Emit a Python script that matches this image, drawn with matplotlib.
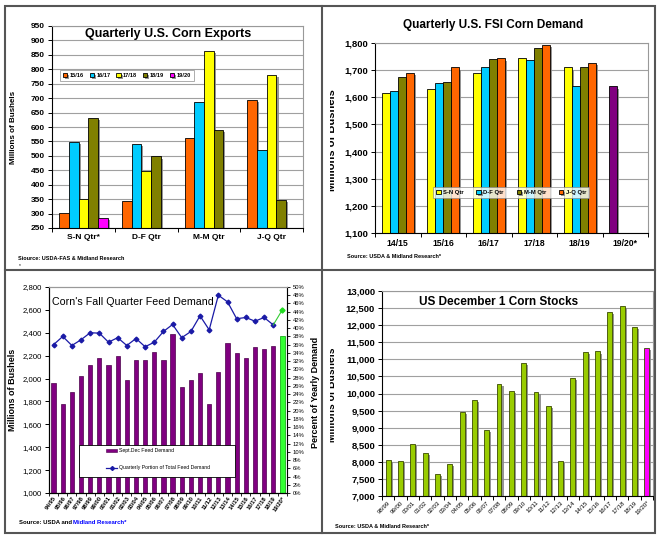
import numpy as np
import matplotlib
matplotlib.use("Agg")
import matplotlib.pyplot as plt
from matplotlib import patheffects as pe
from matplotlib.patches import Rectangle, Patch
from matplotlib.lines import Line2D
from matplotlib.ticker import FuncFormatter, MultipleLocator, FixedLocator
from matplotlib.transforms import Bbox, TransformedBbox

plt.rcParams['font.family'] = ['Liberation Sans', 'DejaVu Sans']

# ---- data ----
exp_quarters = ["S-N Qtr*", "D-F Qtr", "M-M Qtr", "J-Q Qtr"]
exp_years = ["15/16", "16/17", "17/18", "18/19", "19/20"]
exp_1516 = [302, 342, 563, 694]
exp_1617 = [549, 540, 687, 521]
exp_1718 = [349, 448, 862, 781]
exp_1819 = [632, 498, 590, 347]
exp_1920 = [285, np.nan, np.nan, np.nan]

fsi_years = ["14/15", "15/16", "16/17", "17/18", "18/19", "19/20*"]
fsi_qtrs = ["S-N Qtr", "D-F Qtr", "M-M Qtr", "J-Q Qtr"]
fsi_sn = [1614, 1632, 1688, 1743, 1710, 1640]
fsi_df = [1622, 1652, 1710, 1738, 1642, np.nan]
fsi_mm = [1675, 1655, 1740, 1780, 1710, np.nan]
fsi_jq = [1690, 1710, 1743, 1793, 1727, np.nan]

feed_years = ["94/95", "95/96", "96/97", "97/98", "98/99", "99/00", "00/01", "01/02",
              "02/03", "03/04", "04/05", "05/06", "06/07", "07/08", "08/09", "09/10",
              "10/11", "11/12", "12/13", "13/14", "14/15", "15/16", "16/17", "17/18",
              "18/19", "19/20*"]
feed_demand = [1960, 1780, 1885, 2025, 2115, 2180, 2120, 2195, 1985, 2160, 2165, 2235, 2160,
               2390, 1930, 1990, 2050, 1780, 2060, 2315, 2225, 2180, 2280, 2260, 2285, 2370]
feed_share = [36.0, 38.0, 35.8, 37.2, 38.9, 38.8, 36.6, 37.7, 35.8, 37.5, 35.5, 36.6, 39.2,
              40.9, 37.7, 39.2, 43.0, 39.6, 48.0, 46.4, 42.3, 42.6, 41.7, 42.6, 40.8, 44.5]

stock_years = ["98/99", "99/00", "00/01", "01/02", "02/03", "03/04", "04/05", "05/06",
               "06/07", "07/08", "08/09", "09/10", "10/11", "11/12", "12/13", "13/14",
               "14/15", "15/16", "16/17", "17/18", "18/19", "19/20*"]
stock_dec1 = [8060, 8030, 8530, 8260, 7650, 7950, 9470, 9820, 8940, 10280, 10080, 10900,
              10050, 9640, 8030, 10450, 11210, 11230, 12380, 12560, 11940, 11330]

W, H = 663, 541
fig = plt.figure(figsize=(W / 100, H / 100), dpi=100)


def box(l, t, r, b):
    return [l / W, 1 - b / H, (r - l) / W, (b - t) / H]


def fy(y):
    return 1 - y / H


shadow = [pe.SimplePatchShadow(offset=(1.5, -1.5), shadow_rgbFace='#8a8a8a', alpha=0.9), pe.Normal()]
comma = FuncFormatter(lambda v, p: f"{v:,.0f}")


def frame(ax, grid=True):
    for s in ['left', 'bottom']:
        ax.spines[s].set_color('black')
        ax.spines[s].set_linewidth(0.8)
    for s in ['top', 'right']:
        ax.spines[s].set_color('#999999')
        ax.spines[s].set_linewidth(0.8)
    if grid:
        ax.yaxis.grid(True, color='#a0a0a0', lw=0.8)
    ax.set_axisbelow(True)
    ax.tick_params(axis='y', direction='out', length=3, width=0.7, pad=2)


def cat_ticks(ax, n, labels, size, **kw):
    ax.set_xlim(-0.5, n - 0.5)
    ax.xaxis.set_major_locator(FixedLocator(np.arange(n + 1) - 0.5))
    ax.xaxis.set_major_formatter(FuncFormatter(lambda v, p: ""))
    ax.xaxis.set_minor_locator(FixedLocator(np.arange(n)))
    ax.set_xticklabels(labels, minor=True, fontsize=size, fontweight='bold', **kw)
    ax.tick_params(axis='x', which='major', direction='out', length=3, width=0.7)
    ax.tick_params(axis='x', which='minor', length=0, pad=4)


# ---- top left: exports ----
ax1 = fig.add_axes(box(52, 26, 303, 228))
frame(ax1)
x = np.arange(len(exp_quarters))
w = 0.154
exp_series = [exp_1516, exp_1617, exp_1718, exp_1819, exp_1920]
exp_colors = ['#FF6600', '#00CCFF', '#FFFF00', '#808000', '#FF00FF']
for i, (vals, c, lab) in enumerate(zip(exp_series, exp_colors, exp_years)):
    ax1.bar(x + (i - 2) * w, vals, w, color=c, edgecolor='black', lw=0.6,
            label=lab, path_effects=shadow)
ax1.set_ylim(250, 950)
ax1.yaxis.set_major_locator(MultipleLocator(50))
ax1.tick_params(axis='y', labelsize=6)
for t in ax1.get_yticklabels():
    t.set_fontweight('bold')
cat_ticks(ax1, 4, exp_quarters, 6)
fig.text(168 / W, fy(34), "Quarterly U.S. Corn Exports", fontsize=9, fontweight='bold',
         ha='center', va='center')
leg1 = ax1.legend(loc='upper left', bbox_to_anchor=(60 / W, fy(70)), bbox_transform=fig.transFigure,
                  ncol=5, prop={'weight': 'bold', 'size': 4.1}, frameon=True,
                  handlelength=0.8, handleheight=0.8, handletextpad=0.4, columnspacing=1.0,
                  borderpad=0.5, borderaxespad=0, fancybox=False, shadow=False)
leg1.get_frame().set_edgecolor('#888888')
leg1.get_frame().set_linewidth(0.6)
fig.text(14 / W, fy(127), "Millions of Bushels", rotation=90, fontsize=5.8, fontweight='bold',
         ha='center', va='center')

# ---- top right: FSI ----
ax2 = fig.add_axes(box(375, 43, 648, 233))
frame(ax2)
x = np.arange(len(fsi_years))
w = 0.176
fsi_series = [fsi_sn, fsi_df, fsi_mm, fsi_jq]
fsi_colors = ['#FFFF00', '#00CCFF', '#808000', '#FF6600']
for i, (vals, c, lab) in enumerate(zip(fsi_series, fsi_colors, fsi_qtrs)):
    cols = [c] * len(vals)
    if i == 0:
        cols[-1] = '#800080'
    ax2.bar(x + (i - 1.5) * w, vals, w, color=cols, edgecolor='black', lw=0.6,
            label=lab, path_effects=shadow)
ax2.set_ylim(1100, 1800)
ax2.yaxis.set_major_locator(MultipleLocator(100))
ax2.yaxis.set_major_formatter(comma)
ax2.tick_params(axis='y', labelsize=6.8)
for t in ax2.get_yticklabels():
    t.set_fontweight('bold')
cat_ticks(ax2, 6, fsi_years, 6.2)
fig.text(493 / W, fy(25), "Quarterly U.S. FSI Corn Demand", fontsize=8.5, fontweight='bold',
         ha='center', va='center')
h, l = ax2.get_legend_handles_labels()
h[0] = Patch(facecolor='#FFFF00', edgecolor='black', lw=0.6)
leg2 = ax2.legend(h, l, loc='upper left', bbox_to_anchor=(433 / W, fy(187)),
                  bbox_transform=fig.transFigure, ncol=4,
                  prop={'weight': 'bold', 'size': 4.2}, frameon=True, handlelength=0.8,
                  handleheight=0.8, handletextpad=0.4, columnspacing=2.2, borderpad=0.5,
                  borderaxespad=0, fancybox=False)
leg2.get_frame().set_edgecolor('#888888')
leg2.get_frame().set_linewidth(0.6)
t = fig.text(332 / W, fy(140), "Millions of Bushels", rotation=90, fontsize=8, fontweight='bold',
             ha='center', va='center')
t.set_clip_box(TransformedBbox(Bbox([[330 / W, 0.5], [1, 1]]), fig.transFigure))
t.set_clip_on(True)

# ---- bottom left: feed demand ----
ax3 = fig.add_axes(box(49, 287, 287, 493))
frame(ax3, grid=False)
x = np.arange(len(feed_years))
cols = ['#800080'] * len(x)
cols[-1] = '#33FF33'
edges = ['#4a004a'] * len(x)
edges[-1] = '#00a000'
ax3.bar(x, feed_demand, 0.47, color=cols, edgecolor=edges, lw=0.5)
ax3.set_ylim(1000, 2800)
ax3.yaxis.set_major_locator(MultipleLocator(200))
ax3.yaxis.set_major_formatter(comma)
ax3.tick_params(axis='y', labelsize=5.6)
ax3.set_xlim(-0.5, len(x) - 0.5)
ax3.xaxis.set_major_locator(FixedLocator(np.arange(len(x) + 1) - 0.5))
ax3.xaxis.set_major_formatter(FuncFormatter(lambda v, p: ""))
ax3.xaxis.set_minor_locator(FixedLocator(x))
ax3.set_xticklabels(feed_years, minor=True, fontsize=4.2, fontweight='bold', rotation=55,
                    ha='right', rotation_mode='anchor')
ax3.tick_params(axis='x', which='major', direction='out', length=2.5, width=0.6)
ax3.tick_params(axis='x', which='minor', length=0, pad=2)

ax4 = ax3.twinx()
ax4.set_ylim(0, 50)
ax4.yaxis.set_major_locator(MultipleLocator(2))
ax4.yaxis.set_major_formatter(FuncFormatter(lambda v, p: f"{v:.0f}%"))
ax4.tick_params(axis='y', labelsize=4.2, direction='out', length=2.5, width=0.6, pad=1.5)
ax4.spines['right'].set_color('black')
ax4.spines['right'].set_linewidth(0.8)
ax4.spines['top'].set_color('#999999')
ax4.plot(x[:-1], feed_share[:-1], color='#1a1aa6', marker='D', ms=2.4, lw=0.9)
ax4.plot(x[-2:], feed_share[-2:], color='#33CC33', lw=0.8)
ax4.plot(x[-1:], feed_share[-1:], color='#22dd22', marker='D', ms=2.6, lw=0)
ax4.add_patch(Rectangle((79 / W, fy(477)), 156 / W, 32 / H, transform=fig.transFigure,
                        facecolor='white', edgecolor='black', lw=0.6, zorder=5, clip_on=False))
hb = [Patch(facecolor='#800080', edgecolor='#4a004a', lw=0.4),
      Line2D([], [], color='#1a1aa6', marker='D', ms=2, lw=0.9)]
leg3 = ax4.legend(hb, ["Sept.Dec Feed Demand", "Quarterly Portion of Total Feed Demand"],
                  loc='upper left', bbox_to_anchor=(104 / W, fy(446)),
                  bbox_transform=fig.transFigure, frameon=False, fontsize=3.7,
                  handlelength=2.2, handleheight=0.6, handletextpad=0.4, labelspacing=2.4,
                  borderaxespad=0)
leg3.set_zorder(6)
fig.text(52 / W, fy(302), "Corn's Fall Quarter Feed Demand", fontsize=7.7,
         ha='left', va='center')
fig.text(13 / W, fy(390), "Millions of Bushels", rotation=90, fontsize=6.5, fontweight='bold',
         ha='center', va='center')
fig.text(315 / W, fy(392), "Percent of Yearly Demand", rotation=90, fontsize=6.5,
         fontweight='bold', ha='center', va='center')

# ---- bottom right: stocks ----
ax5 = fig.add_axes(box(382, 291, 653, 496))
frame(ax5)
x = np.arange(len(stock_years))
cols = ['#99CC00'] * len(x)
cols[-1] = '#FF00FF'
ax5.bar(x, stock_dec1, 0.4, color=cols, edgecolor='#3a4a00', lw=0.6, path_effects=shadow)
ax5.set_ylim(7000, 13000)
ax5.yaxis.set_major_locator(MultipleLocator(500))
ax5.yaxis.set_major_formatter(comma)
ax5.tick_params(axis='y', labelsize=6.8)
for t5 in ax5.get_yticklabels():
    t5.set_fontweight('bold')
ax5.set_xlim(-0.5, len(x) - 0.5)
ax5.xaxis.set_major_locator(FixedLocator(np.arange(len(x) + 1) - 0.5))
ax5.xaxis.set_major_formatter(FuncFormatter(lambda v, p: ""))
ax5.xaxis.set_minor_locator(FixedLocator(x))
ax5.set_xticklabels(stock_years, minor=True, fontsize=4.4, rotation=45,
                    ha='right', rotation_mode='anchor')
ax5.tick_params(axis='x', which='major', direction='out', length=3, width=0.7)
ax5.tick_params(axis='x', which='minor', length=0, pad=3)
fig.text(499 / W, fy(302), "US December 1 Corn Stocks", fontsize=8.5, fontweight='bold',
         ha='center', va='center')
t = fig.text(332 / W, fy(395), "Millions of Bushels", rotation=90, fontsize=7.4, fontweight='bold',
             ha='center', va='center')
t.set_clip_box(TransformedBbox(Bbox([[330 / W, 0], [1, 0.5]]), fig.transFigure))
t.set_clip_on(True)

# ---- sources ----
fig.text(18 / W, fy(258), "Siource: USDA-FAS & Midland Research", fontsize=4, fontweight='bold',
         va='center')
fig.text(19 / W, fy(266), "*", fontsize=3.5, va='center')
fig.text(347 / W, fy(257), "Source: USDA & Midland Research*", fontsize=4, fontweight='bold',
         va='center')
fig.text(19 / W, fy(523), "Source: USDA and ", fontsize=4.3, fontweight='bold', va='center')
fig.text(73 / W, fy(523), "Midland Research*", fontsize=4.3, fontweight='bold', va='center',
         color='#0000FF')
fig.text(335 / W, fy(527), "Source: USDA & Midland Research*", fontsize=4, fontweight='bold',
         va='center')

# ---- panel frames ----
fig.add_artist(Rectangle((5 / W, fy(533)), 650 / W, 527 / H, transform=fig.transFigure,
                         facecolor='none', edgecolor='#555555', lw=1.5))
fig.add_artist(Line2D([322 / W, 322 / W], [fy(6), fy(533)], transform=fig.transFigure,
                      color='#555555', lw=1.5))
fig.add_artist(Line2D([5 / W, 655 / W], [fy(270), fy(270)], transform=fig.transFigure,
                      color='#555555', lw=1.5))

fig.savefig("out.png", dpi=100)
